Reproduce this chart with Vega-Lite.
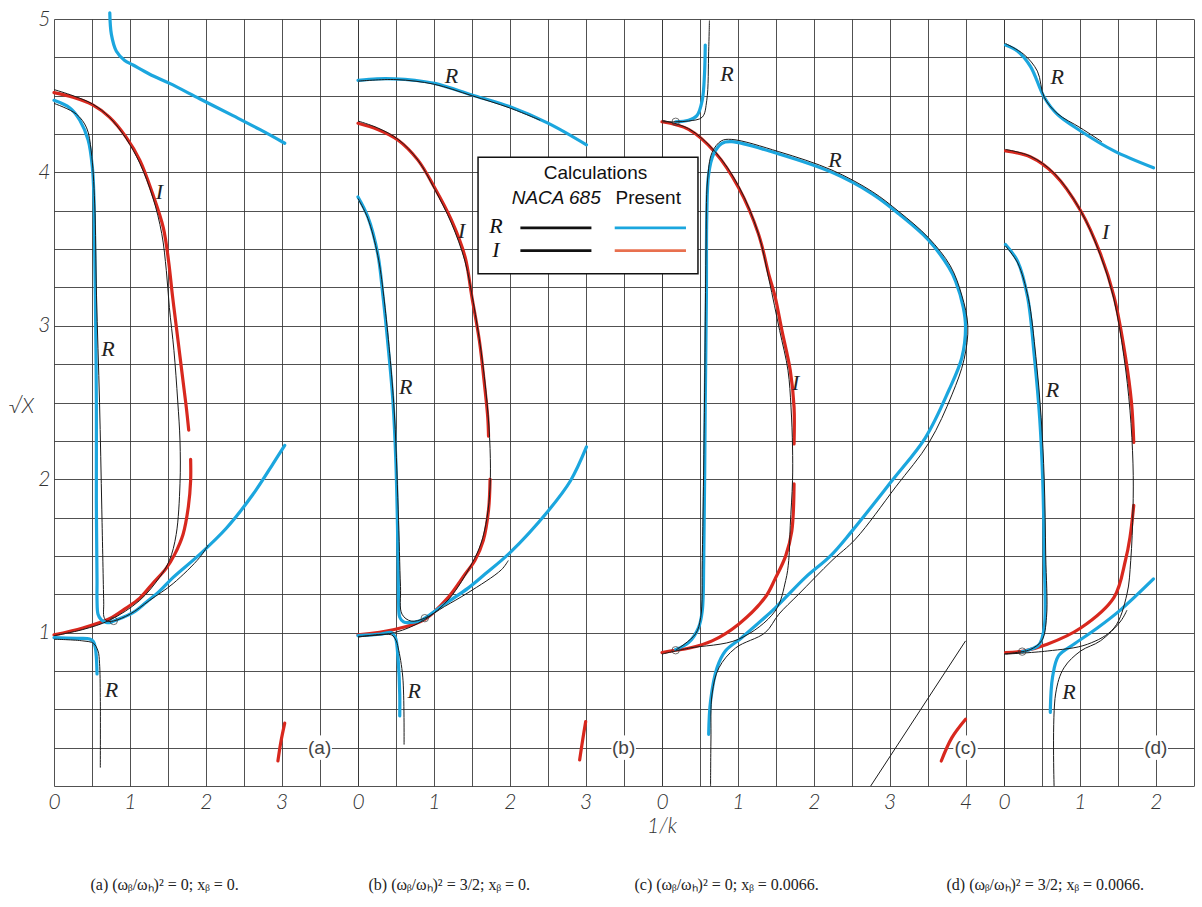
{
"$schema": "https://vega.github.io/schema/vega-lite/v6.json",
"background": "white",
"padding": {"left": 8, "top": 8, "right": 5, "bottom": 5},
"autosize": {"type": "pad"},
"spacing": 0,
"bounds": "flush",
"resolve": {"scale": {"x": "independent", "y": "independent"}, "axis": {"x": "independent", "y": "independent"}},
"config": {
  "view": {"stroke": null},
  "axis": {"grid": true, "gridColor": "#333", "gridOpacity": 0.85, "gridWidth": 1, "domain": false, "ticks": false, "tickCount": 100,
    "labelFont": "Lato", "labelFontStyle": "italic", "labelFontWeight": 300, "labelFontSize": 21, "labelColor": "#333",
    "labelOverlap": false, "labelBound": false, "labelFlush": false},
  "axisX": {"labelPadding": 5, "labelDx": -3},
  "axisY": {"labelPadding": 4}
},
"datasets": {
"curves": [
{"p":"a","s":"a1","k":"R","x":0.735,"y":5.04},{"p":"a","s":"a1","k":"R","x":0.756,"y":4.90},{"p":"a","s":"a1","k":"R","x":0.822,"y":4.79},{"p":"a","s":"a1","k":"R","x":0.931,"y":4.73},{"p":"a","s":"a1","k":"R","x":1.041,"y":4.70},{"p":"a","s":"a1","k":"R","x":1.261,"y":4.64},{"p":"a","s":"a1","k":"R","x":1.524,"y":4.58},{"p":"a","s":"a1","k":"R","x":1.919,"y":4.48},{"p":"a","s":"a1","k":"R","x":2.358,"y":4.37},{"p":"a","s":"a1","k":"R","x":2.71,"y":4.28},{"p":"a","s":"a1","k":"R","x":3.04,"y":4.19},
{"p":"a","s":"a2","k":"I","x":0,"y":4.52},{"p":"a","s":"a2","k":"I","x":0.25,"y":4.49},{"p":"a","s":"a2","k":"I","x":0.51,"y":4.44},{"p":"a","s":"a2","k":"I","x":0.73,"y":4.36},{"p":"a","s":"a2","k":"I","x":0.95,"y":4.23},{"p":"a","s":"a2","k":"I","x":1.13,"y":4.08},{"p":"a","s":"a2","k":"I","x":1.30,"y":3.86},{"p":"a","s":"a2","k":"I","x":1.44,"y":3.64},{"p":"a","s":"a2","k":"I","x":1.51,"y":3.42},{"p":"a","s":"a2","k":"I","x":1.56,"y":3.20},{"p":"a","s":"a2","k":"I","x":1.615,"y":2.98},{"p":"a","s":"a2","k":"I","x":1.66,"y":2.80},{"p":"a","s":"a2","k":"I","x":1.71,"y":2.60},{"p":"a","s":"a2","k":"I","x":1.745,"y":2.46},{"p":"a","s":"a2","k":"I","x":1.775,"y":2.32},
{"p":"a","s":"a3","k":"I","x":1.80,"y":2.13},{"p":"a","s":"a3","k":"I","x":1.80,"y":1.99},{"p":"a","s":"a3","k":"I","x":1.77,"y":1.82},{"p":"a","s":"a3","k":"I","x":1.70,"y":1.64},{"p":"a","s":"a3","k":"I","x":1.59,"y":1.51},{"p":"a","s":"a3","k":"I","x":1.48,"y":1.42},{"p":"a","s":"a3","k":"I","x":1.30,"y":1.32},{"p":"a","s":"a3","k":"I","x":1.13,"y":1.225},{"p":"a","s":"a3","k":"I","x":0.95,"y":1.16},{"p":"a","s":"a3","k":"I","x":0.73,"y":1.09},{"p":"a","s":"a3","k":"I","x":0.38,"y":1.03},{"p":"a","s":"a3","k":"I","x":0,"y":0.985},
{"p":"a","s":"a4","k":"R","x":0,"y":4.47},{"p":"a","s":"a4","k":"R","x":0.21,"y":4.42},{"p":"a","s":"a4","k":"R","x":0.34,"y":4.34},{"p":"a","s":"a4","k":"R","x":0.45,"y":4.21},{"p":"a","s":"a4","k":"R","x":0.506,"y":4.03},{"p":"a","s":"a4","k":"R","x":0.527,"y":3.82},{"p":"a","s":"a4","k":"R","x":0.536,"y":3.49},{"p":"a","s":"a4","k":"R","x":0.545,"y":3.19},{"p":"a","s":"a4","k":"R","x":0.558,"y":2.51},{"p":"a","s":"a4","k":"R","x":0.558,"y":1.86},{"p":"a","s":"a4","k":"R","x":0.567,"y":1.34},{"p":"a","s":"a4","k":"R","x":0.567,"y":1.21},{"p":"a","s":"a4","k":"R","x":0.58,"y":1.12},{"p":"a","s":"a4","k":"R","x":0.62,"y":1.085},{"p":"a","s":"a4","k":"R","x":0.68,"y":1.068},{"p":"a","s":"a4","k":"R","x":0.73,"y":1.065},{"p":"a","s":"a4","k":"R","x":0.787,"y":1.076},{"p":"a","s":"a4","k":"R","x":1.04,"y":1.13},{"p":"a","s":"a4","k":"R","x":1.22,"y":1.20},{"p":"a","s":"a4","k":"R","x":1.39,"y":1.27},{"p":"a","s":"a4","k":"R","x":1.57,"y":1.36},{"p":"a","s":"a4","k":"R","x":1.92,"y":1.51},{"p":"a","s":"a4","k":"R","x":2.27,"y":1.68},{"p":"a","s":"a4","k":"R","x":2.62,"y":1.90},{"p":"a","s":"a4","k":"R","x":2.885,"y":2.10},{"p":"a","s":"a4","k":"R","x":3.04,"y":2.22},
{"p":"a","s":"a5","k":"R","x":0,"y":0.967},{"p":"a","s":"a5","k":"R","x":0.3,"y":0.962},{"p":"a","s":"a5","k":"R","x":0.47,"y":0.958},{"p":"a","s":"a5","k":"R","x":0.52,"y":0.94},{"p":"a","s":"a5","k":"R","x":0.545,"y":0.90},{"p":"a","s":"a5","k":"R","x":0.558,"y":0.84},{"p":"a","s":"a5","k":"R","x":0.567,"y":0.73},
{"p":"a","s":"a6","k":"I","x":2.95,"y":0.163},{"p":"a","s":"a6","k":"I","x":2.99,"y":0.29},{"p":"a","s":"a6","k":"I","x":3.04,"y":0.41},
{"p":"a","s":"aN1","k":"N","x":0,"y":4.45},{"p":"a","s":"aN1","k":"N","x":0.295,"y":4.38},{"p":"a","s":"aN1","k":"N","x":0.43,"y":4.29},{"p":"a","s":"aN1","k":"N","x":0.49,"y":4.14},{"p":"a","s":"aN1","k":"N","x":0.536,"y":3.8},{"p":"a","s":"aN1","k":"N","x":0.56,"y":3.2},{"p":"a","s":"aN1","k":"N","x":0.60,"y":2.5},{"p":"a","s":"aN1","k":"N","x":0.63,"y":1.8},{"p":"a","s":"aN1","k":"N","x":0.655,"y":1.2},{"p":"a","s":"aN1","k":"N","x":0.66,"y":1.1},{"p":"a","s":"aN1","k":"N","x":0.70,"y":1.075},{"p":"a","s":"aN1","k":"N","x":0.787,"y":1.076},{"p":"a","s":"aN1","k":"N","x":1.0,"y":1.12},{"p":"a","s":"aN1","k":"N","x":1.26,"y":1.21},{"p":"a","s":"aN1","k":"N","x":1.57,"y":1.32},{"p":"a","s":"aN1","k":"N","x":1.92,"y":1.49},{"p":"a","s":"aN1","k":"N","x":2.03,"y":1.57},
{"p":"a","s":"aN2","k":"N","x":0,"y":4.54},{"p":"a","s":"aN2","k":"N","x":0.25,"y":4.50},{"p":"a","s":"aN2","k":"N","x":0.51,"y":4.445},{"p":"a","s":"aN2","k":"N","x":0.73,"y":4.36},{"p":"a","s":"aN2","k":"N","x":0.95,"y":4.22},{"p":"a","s":"aN2","k":"N","x":1.13,"y":4.06},{"p":"a","s":"aN2","k":"N","x":1.30,"y":3.84},{"p":"a","s":"aN2","k":"N","x":1.42,"y":3.60},{"p":"a","s":"aN2","k":"N","x":1.48,"y":3.36},{"p":"a","s":"aN2","k":"N","x":1.52,"y":3.12},{"p":"a","s":"aN2","k":"N","x":1.58,"y":2.84},{"p":"a","s":"aN2","k":"N","x":1.63,"y":2.51},{"p":"a","s":"aN2","k":"N","x":1.66,"y":2.25},{"p":"a","s":"aN2","k":"N","x":1.66,"y":1.97},{"p":"a","s":"aN2","k":"N","x":1.61,"y":1.64},{"p":"a","s":"aN2","k":"N","x":1.52,"y":1.47},{"p":"a","s":"aN2","k":"N","x":1.39,"y":1.36},{"p":"a","s":"aN2","k":"N","x":1.13,"y":1.21},{"p":"a","s":"aN2","k":"N","x":0.73,"y":1.08},{"p":"a","s":"aN2","k":"N","x":0.38,"y":1.02},{"p":"a","s":"aN2","k":"N","x":0,"y":0.98},
{"p":"a","s":"aN3","k":"N","x":0,"y":0.957},{"p":"a","s":"aN3","k":"N","x":0.38,"y":0.946},{"p":"a","s":"aN3","k":"N","x":0.52,"y":0.93},{"p":"a","s":"aN3","k":"N","x":0.58,"y":0.88},{"p":"a","s":"aN3","k":"N","x":0.60,"y":0.80},{"p":"a","s":"aN3","k":"N","x":0.61,"y":0.576},{"p":"a","s":"aN3","k":"N","x":0.61,"y":0.12},

{"p":"b","s":"b1","k":"R","x":0,"y":4.60},{"p":"b","s":"b1","k":"R","x":0.25,"y":4.61},{"p":"b","s":"b1","k":"R","x":0.48,"y":4.61},{"p":"b","s":"b1","k":"R","x":0.75,"y":4.60},{"p":"b","s":"b1","k":"R","x":1.01,"y":4.58},{"p":"b","s":"b1","k":"R","x":1.50,"y":4.505},{"p":"b","s":"b1","k":"R","x":2.02,"y":4.425},{"p":"b","s":"b1","k":"R","x":2.51,"y":4.32},{"p":"b","s":"b1","k":"R","x":3.01,"y":4.18},
{"p":"b","s":"b2","k":"I","x":0,"y":4.32},{"p":"b","s":"b2","k":"I","x":0.26,"y":4.28},{"p":"b","s":"b2","k":"I","x":0.53,"y":4.21},{"p":"b","s":"b2","k":"I","x":0.79,"y":4.08},{"p":"b","s":"b2","k":"I","x":1.01,"y":3.90},{"p":"b","s":"b2","k":"I","x":1.23,"y":3.69},{"p":"b","s":"b2","k":"I","x":1.41,"y":3.45},{"p":"b","s":"b2","k":"I","x":1.50,"y":3.19},{"p":"b","s":"b2","k":"I","x":1.60,"y":2.9},{"p":"b","s":"b2","k":"I","x":1.67,"y":2.6},{"p":"b","s":"b2","k":"I","x":1.71,"y":2.4},{"p":"b","s":"b2","k":"I","x":1.72,"y":2.28},
{"p":"b","s":"b3","k":"I","x":1.74,"y":2.0},{"p":"b","s":"b3","k":"I","x":1.72,"y":1.8},{"p":"b","s":"b3","k":"I","x":1.65,"y":1.6},{"p":"b","s":"b3","k":"I","x":1.54,"y":1.47},{"p":"b","s":"b3","k":"I","x":1.41,"y":1.38},{"p":"b","s":"b3","k":"I","x":1.19,"y":1.23},{"p":"b","s":"b3","k":"I","x":0.88,"y":1.087},{"p":"b","s":"b3","k":"I","x":0.48,"y":1.02},{"p":"b","s":"b3","k":"I","x":0,"y":0.985},
{"p":"b","s":"b4","k":"R","x":0,"y":3.84},{"p":"b","s":"b4","k":"R","x":0.13,"y":3.71},{"p":"b","s":"b4","k":"R","x":0.26,"y":3.47},{"p":"b","s":"b4","k":"R","x":0.33,"y":3.19},{"p":"b","s":"b4","k":"R","x":0.40,"y":2.85},{"p":"b","s":"b4","k":"R","x":0.46,"y":2.51},{"p":"b","s":"b4","k":"R","x":0.50,"y":2.1},{"p":"b","s":"b4","k":"R","x":0.52,"y":1.7},{"p":"b","s":"b4","k":"R","x":0.53,"y":1.4},{"p":"b","s":"b4","k":"R","x":0.535,"y":1.2},{"p":"b","s":"b4","k":"R","x":0.55,"y":1.1},{"p":"b","s":"b4","k":"R","x":0.6,"y":1.07},{"p":"b","s":"b4","k":"R","x":0.66,"y":1.065},{"p":"b","s":"b4","k":"R","x":0.81,"y":1.076},{"p":"b","s":"b4","k":"R","x":0.88,"y":1.094},{"p":"b","s":"b4","k":"R","x":1.14,"y":1.185},{"p":"b","s":"b4","k":"R","x":1.45,"y":1.29},{"p":"b","s":"b4","k":"R","x":1.67,"y":1.38},{"p":"b","s":"b4","k":"R","x":2.0,"y":1.52},{"p":"b","s":"b4","k":"R","x":2.5,"y":1.79},{"p":"b","s":"b4","k":"R","x":2.8,"y":1.99},{"p":"b","s":"b4","k":"R","x":3.01,"y":2.21},
{"p":"b","s":"b5","k":"R","x":0,"y":0.98},{"p":"b","s":"b5","k":"R","x":0.3,"y":0.99},{"p":"b","s":"b5","k":"R","x":0.44,"y":1.0},{"p":"b","s":"b5","k":"R","x":0.49,"y":0.97},{"p":"b","s":"b5","k":"R","x":0.505,"y":0.946},{"p":"b","s":"b5","k":"R","x":0.53,"y":0.815},{"p":"b","s":"b5","k":"R","x":0.55,"y":0.60},{"p":"b","s":"b5","k":"R","x":0.55,"y":0.457},
{"p":"b","s":"b6","k":"I","x":2.92,"y":0.17},{"p":"b","s":"b6","k":"I","x":2.96,"y":0.30},{"p":"b","s":"b6","k":"I","x":3.0,"y":0.42},
{"p":"b","s":"bN1","k":"N","x":0,"y":4.595},{"p":"b","s":"bN1","k":"N","x":0.5,"y":4.605},{"p":"b","s":"bN1","k":"N","x":1.0,"y":4.575},{"p":"b","s":"bN1","k":"N","x":1.5,"y":4.50},{"p":"b","s":"bN1","k":"N","x":2.0,"y":4.42},{"p":"b","s":"bN1","k":"N","x":2.4,"y":4.34},
{"p":"b","s":"bN2","k":"N","x":0,"y":4.335},{"p":"b","s":"bN2","k":"N","x":0.26,"y":4.29},{"p":"b","s":"bN2","k":"N","x":0.53,"y":4.215},{"p":"b","s":"bN2","k":"N","x":0.79,"y":4.08},{"p":"b","s":"bN2","k":"N","x":1.01,"y":3.89},{"p":"b","s":"bN2","k":"N","x":1.23,"y":3.67},{"p":"b","s":"bN2","k":"N","x":1.41,"y":3.42},{"p":"b","s":"bN2","k":"N","x":1.52,"y":3.15},{"p":"b","s":"bN2","k":"N","x":1.62,"y":2.84},{"p":"b","s":"bN2","k":"N","x":1.70,"y":2.5},{"p":"b","s":"bN2","k":"N","x":1.74,"y":2.2},{"p":"b","s":"bN2","k":"N","x":1.74,"y":1.95},{"p":"b","s":"bN2","k":"N","x":1.70,"y":1.75},{"p":"b","s":"bN2","k":"N","x":1.62,"y":1.58},{"p":"b","s":"bN2","k":"N","x":1.50,"y":1.45},{"p":"b","s":"bN2","k":"N","x":1.2,"y":1.22},{"p":"b","s":"bN2","k":"N","x":0.88,"y":1.085},{"p":"b","s":"bN2","k":"N","x":0.48,"y":1.0},{"p":"b","s":"bN2","k":"N","x":0,"y":0.975},
{"p":"b","s":"bN3","k":"N","x":0,"y":3.83},{"p":"b","s":"bN3","k":"N","x":0.13,"y":3.70},{"p":"b","s":"bN3","k":"N","x":0.26,"y":3.46},{"p":"b","s":"bN3","k":"N","x":0.34,"y":3.19},{"p":"b","s":"bN3","k":"N","x":0.47,"y":2.5},{"p":"b","s":"bN3","k":"N","x":0.53,"y":1.8},{"p":"b","s":"bN3","k":"N","x":0.56,"y":1.3},{"p":"b","s":"bN3","k":"N","x":0.58,"y":1.12},{"p":"b","s":"bN3","k":"N","x":0.7,"y":1.075},{"p":"b","s":"bN3","k":"N","x":0.88,"y":1.094},{"p":"b","s":"bN3","k":"N","x":1.14,"y":1.17},{"p":"b","s":"bN3","k":"N","x":1.45,"y":1.26},{"p":"b","s":"bN3","k":"N","x":1.89,"y":1.41},{"p":"b","s":"bN3","k":"N","x":1.98,"y":1.47},
{"p":"b","s":"bN4","k":"N","x":0,"y":0.97},{"p":"b","s":"bN4","k":"N","x":0.44,"y":0.985},{"p":"b","s":"bN4","k":"N","x":0.50,"y":0.95},{"p":"b","s":"bN4","k":"N","x":0.53,"y":0.90},{"p":"b","s":"bN4","k":"N","x":0.59,"y":0.71},{"p":"b","s":"bN4","k":"N","x":0.607,"y":0.27},

{"p":"c","s":"c1","k":"R","x":0.18,"y":4.33},{"p":"c","s":"c1","k":"R","x":0.35,"y":4.34},{"p":"c","s":"c1","k":"R","x":0.46,"y":4.37},{"p":"c","s":"c1","k":"R","x":0.53,"y":4.47},{"p":"c","s":"c1","k":"R","x":0.56,"y":4.64},{"p":"c","s":"c1","k":"R","x":0.57,"y":4.83},
{"p":"c","s":"c2","k":"I","x":0,"y":4.33},{"p":"c","s":"c2","k":"I","x":0.35,"y":4.28},{"p":"c","s":"c2","k":"I","x":0.70,"y":4.13},{"p":"c","s":"c2","k":"I","x":1.01,"y":3.90},{"p":"c","s":"c2","k":"I","x":1.27,"y":3.60},{"p":"c","s":"c2","k":"I","x":1.41,"y":3.33},{"p":"c","s":"c2","k":"I","x":1.49,"y":3.19},{"p":"c","s":"c2","k":"I","x":1.58,"y":2.97},{"p":"c","s":"c2","k":"I","x":1.69,"y":2.71},{"p":"c","s":"c2","k":"I","x":1.74,"y":2.47},{"p":"c","s":"c2","k":"I","x":1.74,"y":2.23},
{"p":"c","s":"c3","k":"I","x":1.74,"y":1.97},{"p":"c","s":"c3","k":"I","x":1.71,"y":1.66},{"p":"c","s":"c3","k":"I","x":1.63,"y":1.50},{"p":"c","s":"c3","k":"I","x":1.49,"y":1.35},{"p":"c","s":"c3","k":"I","x":1.36,"y":1.23},{"p":"c","s":"c3","k":"I","x":1.01,"y":1.055},{"p":"c","s":"c3","k":"I","x":0.66,"y":0.946},{"p":"c","s":"c3","k":"I","x":0.35,"y":0.898},{"p":"c","s":"c3","k":"I","x":0.18,"y":0.885},{"p":"c","s":"c3","k":"I","x":0,"y":0.87},
{"p":"c","s":"c4","k":"R","x":0.18,"y":0.89},{"p":"c","s":"c4","k":"R","x":0.35,"y":0.935},{"p":"c","s":"c4","k":"R","x":0.48,"y":1.03},{"p":"c","s":"c4","k":"R","x":0.53,"y":1.14},{"p":"c","s":"c4","k":"R","x":0.55,"y":1.47},{"p":"c","s":"c4","k":"R","x":0.57,"y":2.5},{"p":"c","s":"c4","k":"R","x":0.585,"y":3.19},{"p":"c","s":"c4","k":"R","x":0.59,"y":3.71},{"p":"c","s":"c4","k":"R","x":0.615,"y":3.99},{"p":"c","s":"c4","k":"R","x":0.68,"y":4.12},{"p":"c","s":"c4","k":"R","x":0.79,"y":4.19},{"p":"c","s":"c4","k":"R","x":0.92,"y":4.20},{"p":"c","s":"c4","k":"R","x":1.54,"y":4.12},{"p":"c","s":"c4","k":"R","x":2.24,"y":4.0},{"p":"c","s":"c4","k":"R","x":2.77,"y":3.86},{"p":"c","s":"c4","k":"R","x":3.12,"y":3.73},{"p":"c","s":"c4","k":"R","x":3.51,"y":3.56},{"p":"c","s":"c4","k":"R","x":3.78,"y":3.38},{"p":"c","s":"c4","k":"R","x":3.87,"y":3.29},{"p":"c","s":"c4","k":"R","x":3.97,"y":3.12},{"p":"c","s":"c4","k":"R","x":4.0,"y":2.99},{"p":"c","s":"c4","k":"R","x":3.95,"y":2.79},{"p":"c","s":"c4","k":"R","x":3.78,"y":2.58},{"p":"c","s":"c4","k":"R","x":3.47,"y":2.27},{"p":"c","s":"c4","k":"R","x":3.03,"y":1.99},{"p":"c","s":"c4","k":"R","x":2.50,"y":1.66},{"p":"c","s":"c4","k":"R","x":2.22,"y":1.50},{"p":"c","s":"c4","k":"R","x":1.89,"y":1.36},{"p":"c","s":"c4","k":"R","x":1.49,"y":1.16},{"p":"c","s":"c4","k":"R","x":1.05,"y":0.967},{"p":"c","s":"c4","k":"R","x":0.835,"y":0.88},{"p":"c","s":"c4","k":"R","x":0.725,"y":0.77},{"p":"c","s":"c4","k":"R","x":0.64,"y":0.554},{"p":"c","s":"c4","k":"R","x":0.615,"y":0.337},
{"p":"c","s":"c5","k":"I","x":3.68,"y":0.163},{"p":"c","s":"c5","k":"I","x":3.82,"y":0.315},{"p":"c","s":"c5","k":"I","x":4.0,"y":0.435},
{"p":"c","s":"cN1","k":"N","x":0,"y":4.33},{"p":"c","s":"cN1","k":"N","x":0.18,"y":4.33},{"p":"c","s":"cN1","k":"N","x":0.35,"y":4.335},{"p":"c","s":"cN1","k":"N","x":0.53,"y":4.36},{"p":"c","s":"cN1","k":"N","x":0.59,"y":4.47},{"p":"c","s":"cN1","k":"N","x":0.615,"y":4.79},{"p":"c","s":"cN1","k":"N","x":0.625,"y":4.99},
{"p":"c","s":"cN2","k":"N","x":0.18,"y":0.885},{"p":"c","s":"cN2","k":"N","x":0.44,"y":0.99},{"p":"c","s":"cN2","k":"N","x":0.51,"y":1.10},{"p":"c","s":"cN2","k":"N","x":0.53,"y":1.47},{"p":"c","s":"cN2","k":"N","x":0.56,"y":2.5},{"p":"c","s":"cN2","k":"N","x":0.58,"y":3.5},{"p":"c","s":"cN2","k":"N","x":0.60,"y":3.95},{"p":"c","s":"cN2","k":"N","x":0.66,"y":4.13},{"p":"c","s":"cN2","k":"N","x":0.78,"y":4.205},{"p":"c","s":"cN2","k":"N","x":0.92,"y":4.215},{"p":"c","s":"cN2","k":"N","x":1.54,"y":4.135},{"p":"c","s":"cN2","k":"N","x":2.24,"y":4.015},{"p":"c","s":"cN2","k":"N","x":2.77,"y":3.875},{"p":"c","s":"cN2","k":"N","x":3.12,"y":3.745},{"p":"c","s":"cN2","k":"N","x":3.51,"y":3.575},{"p":"c","s":"cN2","k":"N","x":3.80,"y":3.39},{"p":"c","s":"cN2","k":"N","x":3.95,"y":3.2},{"p":"c","s":"cN2","k":"N","x":4.03,"y":3.0},{"p":"c","s":"cN2","k":"N","x":3.98,"y":2.78},{"p":"c","s":"cN2","k":"N","x":3.82,"y":2.55},{"p":"c","s":"cN2","k":"N","x":3.52,"y":2.24},{"p":"c","s":"cN2","k":"N","x":3.08,"y":1.95},{"p":"c","s":"cN2","k":"N","x":2.55,"y":1.61},{"p":"c","s":"cN2","k":"N","x":2.24,"y":1.47},{"p":"c","s":"cN2","k":"N","x":1.80,"y":1.25},{"p":"c","s":"cN2","k":"N","x":1.54,"y":1.12},{"p":"c","s":"cN2","k":"N","x":1.36,"y":1.0},{"p":"c","s":"cN2","k":"N","x":0.97,"y":0.90},{"p":"c","s":"cN2","k":"N","x":0.75,"y":0.77},{"p":"c","s":"cN2","k":"N","x":0.66,"y":0.60},{"p":"c","s":"cN2","k":"N","x":0.645,"y":0.3},{"p":"c","s":"cN2","k":"N","x":0.64,"y":0.0},
{"p":"c","s":"cN3","k":"N","x":0,"y":4.34},{"p":"c","s":"cN3","k":"N","x":0.35,"y":4.285},{"p":"c","s":"cN3","k":"N","x":0.70,"y":4.135},{"p":"c","s":"cN3","k":"N","x":1.01,"y":3.91},{"p":"c","s":"cN3","k":"N","x":1.27,"y":3.60},{"p":"c","s":"cN3","k":"N","x":1.41,"y":3.30},{"p":"c","s":"cN3","k":"N","x":1.55,"y":2.97},{"p":"c","s":"cN3","k":"N","x":1.66,"y":2.71},{"p":"c","s":"cN3","k":"N","x":1.70,"y":2.47},{"p":"c","s":"cN3","k":"N","x":1.72,"y":2.21},{"p":"c","s":"cN3","k":"N","x":1.72,"y":1.99},{"p":"c","s":"cN3","k":"N","x":1.69,"y":1.70},{"p":"c","s":"cN3","k":"N","x":1.67,"y":1.47},{"p":"c","s":"cN3","k":"N","x":1.63,"y":1.34},{"p":"c","s":"cN3","k":"N","x":1.49,"y":1.14},{"p":"c","s":"cN3","k":"N","x":1.01,"y":0.957},{"p":"c","s":"cN3","k":"N","x":0.35,"y":0.898},{"p":"c","s":"cN3","k":"N","x":0,"y":0.86},
{"p":"c","s":"cN4","k":"N","x":2.75,"y":0},{"p":"c","s":"cN4","k":"N","x":4.0,"y":0.946},

{"p":"d","s":"d1","k":"R","x":0.02,"y":4.83},{"p":"d","s":"d1","k":"R","x":0.18,"y":4.79},{"p":"d","s":"d1","k":"R","x":0.35,"y":4.69},{"p":"d","s":"d1","k":"R","x":0.53,"y":4.49},{"p":"d","s":"d1","k":"R","x":0.70,"y":4.38},{"p":"d","s":"d1","k":"R","x":1.01,"y":4.27},{"p":"d","s":"d1","k":"R","x":1.45,"y":4.14},{"p":"d","s":"d1","k":"R","x":1.97,"y":4.03},
{"p":"d","s":"d2","k":"I","x":0.02,"y":4.14},{"p":"d","s":"d2","k":"I","x":0.35,"y":4.10},{"p":"d","s":"d2","k":"I","x":0.66,"y":3.99},{"p":"d","s":"d2","k":"I","x":1.01,"y":3.75},{"p":"d","s":"d2","k":"I","x":1.27,"y":3.47},{"p":"d","s":"d2","k":"I","x":1.45,"y":3.19},{"p":"d","s":"d2","k":"I","x":1.60,"y":2.8},{"p":"d","s":"d2","k":"I","x":1.68,"y":2.5},{"p":"d","s":"d2","k":"I","x":1.71,"y":2.24},
{"p":"d","s":"d3","k":"I","x":1.71,"y":1.83},{"p":"d","s":"d3","k":"I","x":1.66,"y":1.62},{"p":"d","s":"d3","k":"I","x":1.60,"y":1.47},{"p":"d","s":"d3","k":"I","x":1.45,"y":1.23},{"p":"d","s":"d3","k":"I","x":1.01,"y":1.03},{"p":"d","s":"d3","k":"I","x":0.57,"y":0.924},{"p":"d","s":"d3","k":"I","x":0.26,"y":0.88},{"p":"d","s":"d3","k":"I","x":0.02,"y":0.87},
{"p":"d","s":"d4","k":"R","x":0.02,"y":3.53},{"p":"d","s":"d4","k":"R","x":0.18,"y":3.42},{"p":"d","s":"d4","k":"R","x":0.31,"y":3.19},{"p":"d","s":"d4","k":"R","x":0.40,"y":2.8},{"p":"d","s":"d4","k":"R","x":0.47,"y":2.4},{"p":"d","s":"d4","k":"R","x":0.51,"y":2.0},{"p":"d","s":"d4","k":"R","x":0.53,"y":1.5},{"p":"d","s":"d4","k":"R","x":0.53,"y":1.03},{"p":"d","s":"d4","k":"R","x":0.46,"y":0.92},{"p":"d","s":"d4","k":"R","x":0.31,"y":0.885},{"p":"d","s":"d4","k":"R","x":0.24,"y":0.876},
{"p":"d","s":"d5","k":"R","x":0.61,"y":0.48},{"p":"d","s":"d5","k":"R","x":0.64,"y":0.71},{"p":"d","s":"d5","k":"R","x":0.72,"y":0.85},{"p":"d","s":"d5","k":"R","x":0.92,"y":0.924},{"p":"d","s":"d5","k":"R","x":1.23,"y":1.03},{"p":"d","s":"d5","k":"R","x":1.54,"y":1.15},{"p":"d","s":"d5","k":"R","x":1.97,"y":1.35},
{"p":"d","s":"dN1","k":"N","x":0.02,"y":4.84},{"p":"d","s":"dN1","k":"N","x":0.26,"y":4.77},{"p":"d","s":"dN1","k":"N","x":0.44,"y":4.66},{"p":"d","s":"dN1","k":"N","x":0.53,"y":4.49},{"p":"d","s":"dN1","k":"N","x":0.70,"y":4.385},{"p":"d","s":"dN1","k":"N","x":1.01,"y":4.29},{"p":"d","s":"dN1","k":"N","x":1.29,"y":4.20},
{"p":"d","s":"dN2","k":"N","x":0.02,"y":4.15},{"p":"d","s":"dN2","k":"N","x":0.35,"y":4.105},{"p":"d","s":"dN2","k":"N","x":0.66,"y":3.995},{"p":"d","s":"dN2","k":"N","x":1.01,"y":3.75},{"p":"d","s":"dN2","k":"N","x":1.27,"y":3.46},{"p":"d","s":"dN2","k":"N","x":1.45,"y":3.17},{"p":"d","s":"dN2","k":"N","x":1.58,"y":2.8},{"p":"d","s":"dN2","k":"N","x":1.66,"y":2.45},{"p":"d","s":"dN2","k":"N","x":1.70,"y":2.1},{"p":"d","s":"dN2","k":"N","x":1.70,"y":1.8},{"p":"d","s":"dN2","k":"N","x":1.67,"y":1.47},{"p":"d","s":"dN2","k":"N","x":1.62,"y":1.25},{"p":"d","s":"dN2","k":"N","x":1.45,"y":1.03},{"p":"d","s":"dN2","k":"N","x":1.10,"y":0.924},{"p":"d","s":"dN2","k":"N","x":0.57,"y":0.88},{"p":"d","s":"dN2","k":"N","x":0.02,"y":0.86},
{"p":"d","s":"dN3","k":"N","x":0.02,"y":3.52},{"p":"d","s":"dN3","k":"N","x":0.18,"y":3.41},{"p":"d","s":"dN3","k":"N","x":0.32,"y":3.18},{"p":"d","s":"dN3","k":"N","x":0.42,"y":2.8},{"p":"d","s":"dN3","k":"N","x":0.49,"y":2.4},{"p":"d","s":"dN3","k":"N","x":0.53,"y":2.0},{"p":"d","s":"dN3","k":"N","x":0.55,"y":1.5},{"p":"d","s":"dN3","k":"N","x":0.56,"y":1.10},{"p":"d","s":"dN3","k":"N","x":0.50,"y":0.95},{"p":"d","s":"dN3","k":"N","x":0.35,"y":0.89},{"p":"d","s":"dN3","k":"N","x":0.24,"y":0.876},{"p":"d","s":"dN3","k":"N","x":0,"y":0.86},
{"p":"d","s":"dN4","k":"N","x":0.66,"y":0},{"p":"d","s":"dN4","k":"N","x":0.68,"y":0.60},{"p":"d","s":"dN4","k":"N","x":0.79,"y":0.77},{"p":"d","s":"dN4","k":"N","x":1.01,"y":0.88},{"p":"d","s":"dN4","k":"N","x":1.27,"y":0.946},{"p":"d","s":"dN4","k":"N","x":1.54,"y":1.076},{"p":"d","s":"dN4","k":"N","x":1.62,"y":1.146}
],
"circ": [
{"p":"a","x":0.787,"y":1.076},{"p":"b","x":0.88,"y":1.094},{"p":"c","x":0.18,"y":4.33},{"p":"c","x":0.18,"y":0.885},{"p":"d","x":0.24,"y":0.876}
],
"tags": [
{"p":"a","t":"(a)","x":3.5,"y":0.25},{"p":"b","t":"(b)","x":3.5,"y":0.25},{"p":"c","t":"(c)","x":4.0,"y":0.25},{"p":"d","t":"(d)","x":2.0,"y":0.25}
],
"labs": [
{"p":"a","t":"I","x":1.39,"y":3.87},{"p":"a","t":"R","x":0.71,"y":2.85},{"p":"a","t":"R","x":0.756,"y":0.624},
{"p":"b","t":"R","x":1.23,"y":4.63},{"p":"b","t":"I","x":1.365,"y":3.62},{"p":"b","t":"R","x":0.63,"y":2.60},{"p":"b","t":"R","x":0.74,"y":0.62},
{"p":"c","t":"R","x":0.856,"y":4.64},{"p":"c","t":"R","x":2.28,"y":4.08},{"p":"c","t":"I","x":1.76,"y":2.63},
{"p":"d","t":"R","x":0.70,"y":4.62},{"p":"d","t":"I","x":1.34,"y":3.61},{"p":"d","t":"R","x":0.64,"y":2.58},{"p":"d","t":"R","x":0.855,"y":0.615}
]
},
"hconcat": [
{
 "width": 303.6, "height": 767,
 "layer": [
  {"data": {"name": "tags"}, "transform": [{"filter": "datum.p=='a'"}],
   "mark": {"type": "point", "shape": "square", "size": 600, "filled": true, "fill": "white", "opacity": 1, "strokeWidth": 0},
   "encoding": {
    "x": {"field": "x", "type": "quantitative", "scale": {"domain": [0, 4], "nice": false, "zero": false},
      "axis": {"values": [0,0.5,1,1.5,2,2.5,3,3.5,4], "tickCount": 100, "labelExpr": "datum.value % 1 == 0 && datum.value < 3.9 ? '' + datum.value : ''",
        "title": "(a)  (ωᵦ/ωₕ)² = 0;  xᵦ = 0.", "titleX": 36, "titleY": 98, "titleAlign": "left", "titleBaseline": "middle", "titleFont": "Liberation Serif", "titleFontSize": 16, "titleFontWeight": "normal", "titleColor": "#222"}},
    "y": {"field": "y", "type": "quantitative", "scale": {"domain": [0, 5], "nice": false, "zero": false},
      "axis": {"values": [0,0.25,0.5,0.75,1,1.25,1.5,1.75,2,2.25,2.5,2.75,3,3.25,3.5,3.75,4,4.25,4.5,4.75,5], "tickCount": 100,
        "labelExpr": "datum.value > 0.5 && datum.value % 1 == 0 ? '' + datum.value : ''",
        "title": "√X", "titleAngle": 0, "titleX": -46, "titleY": 387, "titleAlign": "left", "titleBaseline": "middle",
        "titleFont": "Lato", "titleFontStyle": "italic", "titleFontWeight": 300, "titleFontSize": 21, "titleColor": "#333"}}
   }},
  {"data": {"name": "tags"}, "transform": [{"filter": "datum.p=='a'"}],
   "mark": {"type": "text", "font": "Liberation Sans", "fontSize": 19, "color": "#444"},
   "encoding": {"x": {"field": "x", "type": "quantitative"}, "y": {"field": "y", "type": "quantitative"}, "text": {"field": "t"}}},
  {"data": {"name": "curves"}, "transform": [{"filter": "datum.p=='a' && datum.k!='N'"}],
   "mark": {"type": "line", "strokeWidth": 3.2, "strokeCap": "round", "strokeJoin": "round", "interpolate": "catmull-rom"},
   "encoding": {
    "x": {"field": "x", "type": "quantitative"}, "y": {"field": "y", "type": "quantitative"},
    "color": {"field": "k", "type": "nominal", "scale": {"domain": ["R", "I"], "range": ["#1ba6de", "#d8281e"]}, "legend": null},
    "detail": {"field": "s", "type": "nominal"},
    "order": {"value": null}
   }},
  {"data": {"name": "curves"}, "transform": [{"filter": "datum.p=='a' && datum.k=='N'"}],
   "mark": {"type": "line", "strokeWidth": 1, "color": "#1a1a1a", "interpolate": "catmull-rom"},
   "encoding": {"x": {"field": "x", "type": "quantitative"}, "y": {"field": "y", "type": "quantitative"}, "detail": {"field": "s", "type": "nominal"}, "order": {"value": null}}},
  {"data": {"name": "circ"}, "transform": [{"filter": "datum.p=='a'"}],
   "mark": {"type": "point", "shape": "circle", "size": 55, "filled": false, "stroke": "#333", "strokeWidth": 1},
   "encoding": {"x": {"field": "x", "type": "quantitative"}, "y": {"field": "y", "type": "quantitative"}}},
  {"data": {"name": "labs"}, "transform": [{"filter": "datum.p=='a'"}],
   "mark": {"type": "text", "font": "Liberation Serif", "fontStyle": "italic", "fontSize": 22, "color": "#222"},
   "encoding": {"x": {"field": "x", "type": "quantitative"}, "y": {"field": "y", "type": "quantitative"}, "text": {"field": "t"}}}
 ]
},
{
 "width": 303.6, "height": 767,
 "layer": [
  {"data": {"name": "tags"}, "transform": [{"filter": "datum.p=='b'"}],
   "mark": {"type": "point", "shape": "square", "size": 600, "filled": true, "fill": "white", "opacity": 1, "strokeWidth": 0},
   "encoding": {
    "x": {"field": "x", "type": "quantitative", "scale": {"domain": [0, 4], "nice": false, "zero": false},
      "axis": {"values": [0,0.5,1,1.5,2,2.5,3,3.5,4], "tickCount": 100, "labelExpr": "datum.value % 1 == 0 && datum.value < 3.9 ? '' + datum.value : ''",
        "title": "(b)  (ωᵦ/ωₕ)² = 3/2;  xᵦ = 0.", "titleX": 10, "titleY": 98, "titleAlign": "left", "titleBaseline": "middle", "titleFont": "Liberation Serif", "titleFontSize": 16, "titleFontWeight": "normal", "titleColor": "#222"}},
    "y": {"field": "y", "type": "quantitative", "scale": {"domain": [0, 5], "nice": false, "zero": false},
      "axis": {"values": [0,0.25,0.5,0.75,1,1.25,1.5,1.75,2,2.25,2.5,2.75,3,3.25,3.5,3.75,4,4.25,4.5,4.75,5], "tickCount": 100, "labels": false, "title": null, "minExtent": 0, "maxExtent": 0}}
   }},
  {"data": {"name": "tags"}, "transform": [{"filter": "datum.p=='b'"}],
   "mark": {"type": "text", "font": "Liberation Sans", "fontSize": 19, "color": "#444"},
   "encoding": {"x": {"field": "x", "type": "quantitative"}, "y": {"field": "y", "type": "quantitative"}, "text": {"field": "t"}}},
  {"data": {"name": "curves"}, "transform": [{"filter": "datum.p=='b' && datum.k!='N'"}],
   "mark": {"type": "line", "strokeWidth": 3.2, "strokeCap": "round", "strokeJoin": "round", "interpolate": "catmull-rom"},
   "encoding": {
    "x": {"field": "x", "type": "quantitative"}, "y": {"field": "y", "type": "quantitative"},
    "color": {"field": "k", "type": "nominal", "scale": {"domain": ["R", "I"], "range": ["#1ba6de", "#d8281e"]}, "legend": null},
    "detail": {"field": "s", "type": "nominal"},
    "order": {"value": null}
   }},
  {"data": {"name": "curves"}, "transform": [{"filter": "datum.p=='b' && datum.k=='N'"}],
   "mark": {"type": "line", "strokeWidth": 1, "color": "#1a1a1a", "interpolate": "catmull-rom"},
   "encoding": {"x": {"field": "x", "type": "quantitative"}, "y": {"field": "y", "type": "quantitative"}, "detail": {"field": "s", "type": "nominal"}, "order": {"value": null}}},
  {"data": {"name": "circ"}, "transform": [{"filter": "datum.p=='b'"}],
   "mark": {"type": "point", "shape": "circle", "size": 55, "filled": false, "stroke": "#333", "strokeWidth": 1},
   "encoding": {"x": {"field": "x", "type": "quantitative"}, "y": {"field": "y", "type": "quantitative"}}},
  {"data": {"name": "labs"}, "transform": [{"filter": "datum.p=='b'"}],
   "mark": {"type": "text", "font": "Liberation Serif", "fontStyle": "italic", "fontSize": 22, "color": "#222"},
   "encoding": {"x": {"field": "x", "type": "quantitative"}, "y": {"field": "y", "type": "quantitative"}, "text": {"field": "t"}}}
 ]
},
{
 "width": 341.5, "height": 767,
 "layer": [
  {"data": {"name": "tags"}, "transform": [{"filter": "datum.p=='c'"}],
   "mark": {"type": "point", "shape": "square", "size": 600, "filled": true, "fill": "white", "opacity": 1, "strokeWidth": 0},
   "encoding": {
    "x": {"field": "x", "type": "quantitative", "scale": {"domain": [0, 4.5], "nice": false, "zero": false},
      "axis": {"values": [0,0.5,1,1.5,2,2.5,3,3.5,4,4.5], "tickCount": 100, "labelExpr": "datum.value % 1 == 0 ? '' + datum.value : ''",
        "title": "(c)  (ωᵦ/ωₕ)² = 0;  xᵦ = 0.0066.", "titleX": -28, "titleY": 98, "titleAlign": "left", "titleBaseline": "middle", "titleFont": "Liberation Serif", "titleFontSize": 16, "titleFontWeight": "normal", "titleColor": "#222"}},
    "y": {"field": "y", "type": "quantitative", "scale": {"domain": [0, 5], "nice": false, "zero": false},
      "axis": {"values": [0,0.25,0.5,0.75,1,1.25,1.5,1.75,2,2.25,2.5,2.75,3,3.25,3.5,3.75,4,4.25,4.5,4.75,5], "tickCount": 100, "labels": false, "title": null, "minExtent": 0, "maxExtent": 0}}
   }},
  {"data": {"name": "tags"}, "transform": [{"filter": "datum.p=='c'"}],
   "mark": {"type": "text", "font": "Liberation Sans", "fontSize": 19, "color": "#444"},
   "encoding": {"x": {"field": "x", "type": "quantitative"}, "y": {"field": "y", "type": "quantitative"}, "text": {"field": "t"}}},
  {"data": {"name": "curves"}, "transform": [{"filter": "datum.p=='c' && datum.k!='N'"}],
   "mark": {"type": "line", "strokeWidth": 3.2, "strokeCap": "round", "strokeJoin": "round", "interpolate": "catmull-rom"},
   "encoding": {
    "x": {"field": "x", "type": "quantitative"}, "y": {"field": "y", "type": "quantitative"},
    "color": {"field": "k", "type": "nominal", "scale": {"domain": ["R", "I"], "range": ["#1ba6de", "#d8281e"]}, "legend": null},
    "detail": {"field": "s", "type": "nominal"},
    "order": {"value": null}
   }},
  {"data": {"name": "curves"}, "transform": [{"filter": "datum.p=='c' && datum.k=='N'"}],
   "mark": {"type": "line", "strokeWidth": 1, "color": "#1a1a1a", "interpolate": "catmull-rom"},
   "encoding": {"x": {"field": "x", "type": "quantitative"}, "y": {"field": "y", "type": "quantitative"}, "detail": {"field": "s", "type": "nominal"}, "order": {"value": null}}},
  {"data": {"name": "circ"}, "transform": [{"filter": "datum.p=='c'"}],
   "mark": {"type": "point", "shape": "circle", "size": 55, "filled": false, "stroke": "#333", "strokeWidth": 1},
   "encoding": {"x": {"field": "x", "type": "quantitative"}, "y": {"field": "y", "type": "quantitative"}}},
  {"data": {"name": "labs"}, "transform": [{"filter": "datum.p=='c'"}],
   "mark": {"type": "text", "font": "Liberation Serif", "fontStyle": "italic", "fontSize": 22, "color": "#222"},
   "encoding": {"x": {"field": "x", "type": "quantitative"}, "y": {"field": "y", "type": "quantitative"}, "text": {"field": "t"}}},
  {"data": {"values": [{"t": "1/k", "x": 0, "y": -0.267}]},
   "mark": {"type": "text", "font": "Lato", "fontStyle": "italic", "fontWeight": 300, "fontSize": 21, "color": "#333"},
   "encoding": {"x": {"field": "x", "type": "quantitative"}, "y": {"field": "y", "type": "quantitative"}, "text": {"field": "t"}}},
  {"data": {"values": [{"x": -2.424, "x2": 0.474, "y": 4.099, "y2": 3.340}]},
   "mark": {"type": "rect", "fill": "white", "stroke": "#111", "strokeWidth": 1.5},
   "encoding": {"x": {"field": "x", "type": "quantitative"}, "x2": {"field": "x2"}, "y": {"field": "y", "type": "quantitative"}, "y2": {"field": "y2"}}},
  {"data": {"values": [{"t": "Calculations", "x": -0.877, "y": 3.994}, {"t": "Present", "x": -0.182, "y": 3.830}]},
   "mark": {"type": "text", "font": "Liberation Sans", "fontSize": 19, "color": "#111"},
   "encoding": {"x": {"field": "x", "type": "quantitative"}, "y": {"field": "y", "type": "quantitative"}, "text": {"field": "t"}}},
  {"data": {"values": [{"t": "NACA 685", "x": -1.394, "y": 3.830}]},
   "mark": {"type": "text", "font": "Liberation Sans", "fontStyle": "italic", "fontSize": 19, "color": "#111"},
   "encoding": {"x": {"field": "x", "type": "quantitative"}, "y": {"field": "y", "type": "quantitative"}, "text": {"field": "t"}}},
  {"data": {"values": [{"t": "R", "x": -2.187, "y": 3.653}, {"t": "I", "x": -2.187, "y": 3.494}]},
   "mark": {"type": "text", "font": "Liberation Serif", "fontStyle": "italic", "fontSize": 22, "color": "#111"},
   "encoding": {"x": {"field": "x", "type": "quantitative"}, "y": {"field": "y", "type": "quantitative"}, "text": {"field": "t"}}},
  {"data": {"values": [{"x": -1.866, "x2": -0.930, "y": 3.638}, {"x": -1.866, "x2": -0.930, "y": 3.490}]},
   "mark": {"type": "rule", "color": "#111", "strokeWidth": 2.8},
   "encoding": {"x": {"field": "x", "type": "quantitative"}, "x2": {"field": "x2"}, "y": {"field": "y", "type": "quantitative"}}},
  {"data": {"values": [{"x": -0.623, "x2": 0.316, "y": 3.638}]},
   "mark": {"type": "rule", "color": "#1ba6de", "strokeWidth": 2.8},
   "encoding": {"x": {"field": "x", "type": "quantitative"}, "x2": {"field": "x2"}, "y": {"field": "y", "type": "quantitative"}}},
  {"data": {"values": [{"x": -0.623, "x2": 0.316, "y": 3.490}]},
   "mark": {"type": "rule", "color": "#e8704f", "strokeWidth": 2.8},
   "encoding": {"x": {"field": "x", "type": "quantitative"}, "x2": {"field": "x2"}, "y": {"field": "y", "type": "quantitative"}}}
 ]
},
{
 "width": 189.7, "height": 767,
 "layer": [
  {"data": {"name": "tags"}, "transform": [{"filter": "datum.p=='d'"}],
   "mark": {"type": "point", "shape": "square", "size": 600, "filled": true, "fill": "white", "opacity": 1, "strokeWidth": 0},
   "encoding": {
    "x": {"field": "x", "type": "quantitative", "scale": {"domain": [0, 2.5], "nice": false, "zero": false},
      "axis": {"values": [0,0.5,1,1.5,2,2.5], "tickCount": 100, "labelExpr": "datum.value % 1 == 0 ? '' + datum.value : ''",
        "title": "(d)  (ωᵦ/ωₕ)² = 3/2;  xᵦ = 0.0066.", "titleX": -58, "titleY": 98, "titleAlign": "left", "titleBaseline": "middle", "titleFont": "Liberation Serif", "titleFontSize": 16, "titleFontWeight": "normal", "titleColor": "#222"}},
    "y": {"field": "y", "type": "quantitative", "scale": {"domain": [0, 5], "nice": false, "zero": false},
      "axis": {"values": [0,0.25,0.5,0.75,1,1.25,1.5,1.75,2,2.25,2.5,2.75,3,3.25,3.5,3.75,4,4.25,4.5,4.75,5], "tickCount": 100, "labels": false, "title": null, "minExtent": 0, "maxExtent": 0}}
   }},
  {"data": {"name": "tags"}, "transform": [{"filter": "datum.p=='d'"}],
   "mark": {"type": "text", "font": "Liberation Sans", "fontSize": 19, "color": "#444"},
   "encoding": {"x": {"field": "x", "type": "quantitative"}, "y": {"field": "y", "type": "quantitative"}, "text": {"field": "t"}}},
  {"data": {"name": "curves"}, "transform": [{"filter": "datum.p=='d' && datum.k!='N'"}],
   "mark": {"type": "line", "strokeWidth": 3.2, "strokeCap": "round", "strokeJoin": "round", "interpolate": "catmull-rom"},
   "encoding": {
    "x": {"field": "x", "type": "quantitative"}, "y": {"field": "y", "type": "quantitative"},
    "color": {"field": "k", "type": "nominal", "scale": {"domain": ["R", "I"], "range": ["#1ba6de", "#d8281e"]}, "legend": null},
    "detail": {"field": "s", "type": "nominal"},
    "order": {"value": null}
   }},
  {"data": {"name": "curves"}, "transform": [{"filter": "datum.p=='d' && datum.k=='N'"}],
   "mark": {"type": "line", "strokeWidth": 1, "color": "#1a1a1a", "interpolate": "catmull-rom"},
   "encoding": {"x": {"field": "x", "type": "quantitative"}, "y": {"field": "y", "type": "quantitative"}, "detail": {"field": "s", "type": "nominal"}, "order": {"value": null}}},
  {"data": {"name": "circ"}, "transform": [{"filter": "datum.p=='d'"}],
   "mark": {"type": "point", "shape": "circle", "size": 55, "filled": false, "stroke": "#333", "strokeWidth": 1},
   "encoding": {"x": {"field": "x", "type": "quantitative"}, "y": {"field": "y", "type": "quantitative"}}},
  {"data": {"name": "labs"}, "transform": [{"filter": "datum.p=='d'"}],
   "mark": {"type": "text", "font": "Liberation Serif", "fontStyle": "italic", "fontSize": 22, "color": "#222"},
   "encoding": {"x": {"field": "x", "type": "quantitative"}, "y": {"field": "y", "type": "quantitative"}, "text": {"field": "t"}}}
 ]
}
]
}
